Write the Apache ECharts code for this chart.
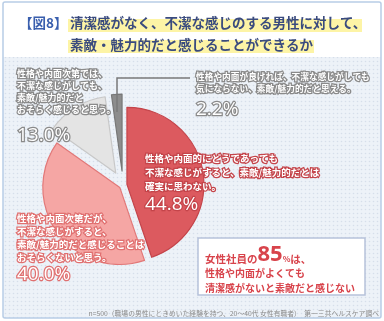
<!DOCTYPE html>
<html><head><meta charset="utf-8">
<script src="https://cdn.jsdelivr.net/npm/echarts@6/dist/echarts.min.js"></script>
<style>html,body{margin:0;padding:0;background:#fff}#c{width:384px;height:321px}</style>
</head><body><div id="c"></div>
<script>
const categories = [
  '性格や内面的にどうであっても\n不潔な感じがすると、素敵/魅力的だとは\n確実に思わない。',
  '性格や内面次第だが、\n不潔な感じがすると、\n素敵/魅力的だと感じることは\nおそらくないと思う。',
  '性格や内面次第では、\n不潔な感じがしても、\n素敵/魅力的だと\nおそらく感じると思う。',
  '性格や内面が良ければ、不潔な感じがしても\n気にならない、素敵/魅力的だと思える。'
];
const values = [44.8, 40.0, 13.0, 2.2];
const titleTag = '【図8】';
const titleLines = ['清潔感がなく、不潔な感じのする男性に対して、', '素敵・魅力的だと感じることができるか'];
const noteParts = ['女性社員の', '85', '%', 'は、', '性格や内面がよくても', '清潔感がないと素敵だと感じない'];
const footer = 'n=500（職場の男性にときめいた経験を持つ、20〜40代 女性有職者）　第一三共ヘルスケア調べ';

const FONT = '"Noto Sans CJK JP", "Noto Sans", sans-serif';
const colors = ['#dc5a5f', '#f5a6a4', '#e4e4e4', '#8d8d8d'];
const borders = ['#c4444a', '#e27878', '#c8c8c8', '#777777'];
const strokeC = ['#c4444a', '#e07070', '#8a8a8a', '#8a8a8a'];
const txtFS = [9.5, 9.5, 9, 8.7];
const txtLH = [14, 13, 12, 12];
const pctLH = [24, 22, 39, 30];
const labelPos = [[145, 151], [17, 212], [17, 68], [196, 71]];
const groups = [[0, 1], [2, 3]];
const offsets = [4, 14];

const pc = document.createElement('canvas'); pc.width = 4; pc.height = 4;
const cx = pc.getContext('2d');
cx.fillStyle = '#edf2f8'; cx.fillRect(0, 0, 4, 4);
cx.fillStyle = '#d6deea'; cx.beginPath(); cx.arc(1.5, 1.5, 0.8, 0, Math.PI * 2); cx.fill();

function makeData(g) {
  return values.map((v, i) => {
    const vis = groups[g].indexOf(i) >= 0;
    return {
      name: categories[i], value: v, selected: true,
      itemStyle: vis ? { color: colors[i], borderColor: borders[i], borderWidth: 1.2 } : { color: 'rgba(0,0,0,0)', borderWidth: 0 }
    };
  });
}

const series = groups.map((gr, g) => ({
  type: 'pie', center: [123, 185], radius: 77, startAngle: 90, clockwise: true,
  selectedMode: 'multiple', selectedOffset: offsets[g],
  emphasis: { disabled: true }, silent: true, z: 3 + g,
  label: { show: false }, labelLine: { show: false },
  data: makeData(g)
}));

const labelGraphics = values.map((v, i) => ({
  type: 'text', z: 20, x: labelPos[i][0], y: labelPos[i][1],
  style: {
    text: '{t|' + categories[i] + '}\n{p|' + v.toFixed(1) + '%}',
    rich: {
      t: { fontSize: txtFS[i], lineHeight: txtLH[i], fill: '#fff', stroke: strokeC[i], lineWidth: 2.5, fontFamily: FONT, fontWeight: 'bold' },
      p: { fontSize: 19, lineHeight: pctLH[i], fill: '#fff', stroke: strokeC[i], lineWidth: 2.5, fontFamily: '"Open Sans", "Noto Sans", sans-serif' }
    }
  }
}));

const chart = echarts.init(document.getElementById('c'), null, { renderer: 'canvas' });
chart.setOption({
  animation: false,
  graphic: [
    { type: 'rect', z: -10, shape: { x: 3, y: 57, width: 378, height: 261 }, style: { fill: { image: pc, repeat: 'repeat' } } },
    { type: 'rect', z: -9, shape: { x: 3, y: 2, width: 378, height: 316, r: 2 }, style: { fill: 'none', stroke: '#b8cde6', lineWidth: 1.5 } },
    { type: 'rect', z: -5, shape: { x: 68, y: 19, width: 294, height: 13 }, style: { fill: '#fdf4a6' } },
    { type: 'rect', z: -5, shape: { x: 68, y: 40, width: 246, height: 13 }, style: { fill: '#fdf4a6' } },
    { type: 'text', z: 1, style: { text: titleTag, x: 19, y: 23, fill: '#3a5fae', font: 'bold 13.5px ' + FONT, verticalAlign: 'middle' } },
    { type: 'text', z: 1, style: { text: titleLines[0], x: 70, y: 23, fill: '#3a4b7e', font: 'bold 13.5px ' + FONT, verticalAlign: 'middle' } },
    { type: 'text', z: 1, style: { text: titleLines[1], x: 70, y: 45, fill: '#3a4b7e', font: 'bold 13.5px ' + FONT, verticalAlign: 'middle' } },
    { type: 'polyline', z: 19, shape: { points: [[117, 112], [117, 78], [190, 78]] }, style: { stroke: '#7a7a7a', lineWidth: 1.5, fill: 'none' } },
    ...labelGraphics,
    { type: 'rect', z: 10, shape: { x: 198, y: 238, width: 167, height: 57 }, style: { fill: '#ffffff', stroke: '#b6c2da', lineWidth: 1.5 } },
    { type: 'text', z: 11, style: {
      x: 205, y: 244,
      text: '{a|' + noteParts[0] + '}{b|' + noteParts[1] + '}{c|' + noteParts[2] + '}{a|' + noteParts[3] + '}\n{d|' + noteParts[4] + '}\n{d|' + noteParts[5] + '}',
      rich: {
        a: { fontSize: 10.5, fontWeight: 'bold', fill: '#d8434b', fontFamily: FONT, lineHeight: 22, verticalAlign: 'bottom', padding: [0, 0, 2, 0] },
        b: { fontSize: 22, fontWeight: 'bold', fill: '#d8434b', fontFamily: '"Open Sans", sans-serif', lineHeight: 22, verticalAlign: 'bottom' },
        c: { fontSize: 8, fontWeight: 'bold', fill: '#d8434b', fontFamily: FONT, lineHeight: 22, verticalAlign: 'bottom', padding: [0, 0, 3, 0] },
        d: { fontSize: 10, fontWeight: 'bold', fill: '#d8434b', fontFamily: FONT, lineHeight: 15 }
      }
    } },
    { type: 'text', z: 11, style: { text: footer, x: 379, y: 313, align: 'right', verticalAlign: 'middle', fill: '#8a8a8a', font: '6.8px ' + FONT } }
  ],
  series: series
});
</script></body></html>
